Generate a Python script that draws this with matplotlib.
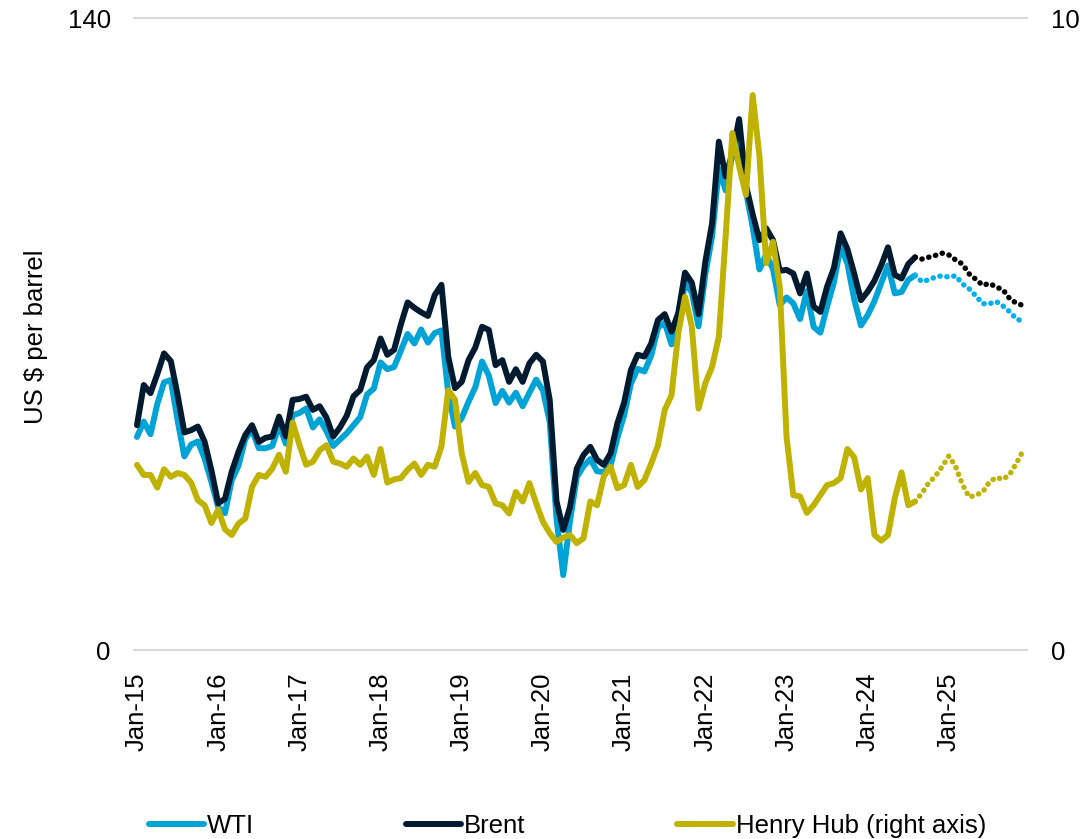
import matplotlib
matplotlib.use("Agg")
import matplotlib.pyplot as plt
from matplotlib.lines import Line2D

plt.rcParams["font.family"] = ["Liberation Sans", "DejaVu Sans"]

# ── data (monthly, Jan-15 .. Dec-25) ─────────────────────────────────────────

TICK_LABELS = ["Jan-15", "Jan-16", "Jan-17", "Jan-18", "Jan-19", "Jan-20",
               "Jan-21", "Jan-22", "Jan-23", "Jan-24", "Jan-25"]

# history Jan-15 .. Aug-24 (US $ per barrel)
WTI_HIST = [
    47.2, 50.6, 47.8, 54.5, 59.3, 59.8, 50.9, 42.9, 45.5, 46.2, 42.4, 37.2,
    31.7, 30.3, 37.6, 40.8, 46.7, 48.8, 44.7, 44.7, 45.2, 49.8, 45.7, 52.0,
    52.5, 53.5, 49.3, 51.1, 48.5, 45.2, 46.6, 48.0, 49.8, 51.6, 56.6, 57.9,
    63.7, 62.2, 62.7, 66.3, 70.0, 67.9, 71.0, 68.1, 70.2, 70.8, 57.0, 49.5,
    51.4, 55.0, 58.2, 63.9, 60.8, 54.7, 57.4, 54.8, 57.0, 54.0, 57.0, 59.9,
    57.5, 50.5, 29.2, 16.6, 28.6, 38.3, 40.7, 42.3, 39.6, 39.4, 40.9, 47.0,
    52.0, 59.0, 62.3, 61.7, 65.2, 71.4, 72.5, 67.7, 71.7, 81.5, 79.2, 71.7,
    83.2, 91.6, 106.5, 101.8, 109.6, 114.8, 101.6, 93.7, 84.3, 87.6, 84.4, 76.4,
    78.1, 76.8, 73.3, 79.5, 71.6, 70.3, 76.1, 81.4, 89.4, 85.6, 77.7, 71.9,
    74.2, 77.3, 81.3, 85.2, 79.0, 79.3, 82.0, 83.0,
]
BRENT_HIST = [
    49.8, 58.7, 56.9, 61.1, 65.7, 64.0, 56.5, 48.2, 48.7, 49.5, 46.1, 39.8,
    32.5, 33.5, 39.5, 43.9, 47.6, 49.8, 46.1, 47.0, 47.3, 51.7, 47.3, 55.4,
    55.6, 56.1, 53.2, 54.0, 51.5, 47.3, 49.3, 51.9, 56.2, 57.6, 62.6, 64.2,
    69.0, 65.4, 66.5, 72.1, 77.0, 75.8, 74.8, 74.0, 78.6, 80.9, 65.0, 58.0,
    59.4, 64.2, 67.0, 71.6, 70.9, 63.1, 64.2, 59.4, 62.2, 59.4, 63.5, 65.4,
    63.9, 55.4, 33.0, 26.6, 31.7, 40.2, 43.2, 45.0, 42.1, 41.0, 43.6, 50.2,
    54.8, 62.0, 65.4, 65.0, 67.9, 73.1, 74.4, 70.5, 74.6, 83.6, 81.4, 74.4,
    86.0, 94.5, 112.6, 104.9, 110.0, 117.6, 103.0, 96.5, 90.8, 93.4, 90.8, 84.0,
    84.2, 83.4, 79.0, 83.4, 76.1, 74.9, 80.5, 84.6, 92.3, 88.8, 83.4, 77.5,
    79.4, 81.8, 85.2, 89.2, 83.1, 82.3, 85.5, 87.0,
]
# US $ per MMBtu
HH_HIST = [
    2.93, 2.77, 2.77, 2.57, 2.86, 2.74, 2.80, 2.77, 2.65, 2.37, 2.29, 2.01,
    2.22, 1.91, 1.82, 2.00, 2.08, 2.58, 2.77, 2.74, 2.87, 3.09, 2.82, 3.60,
    3.25, 2.93, 2.98, 3.16, 3.24, 2.98, 2.95, 2.90, 3.03, 2.93, 3.06, 2.77,
    3.18, 2.65, 2.70, 2.72, 2.85, 2.95, 2.77, 2.93, 2.90, 3.22, 4.11, 3.96,
    3.11, 2.66, 2.80, 2.61, 2.58, 2.32, 2.29, 2.16, 2.50, 2.35, 2.64, 2.32,
    2.03, 1.85, 1.71, 1.78, 1.82, 1.69, 1.77, 2.35, 2.29, 2.75, 2.90, 2.56,
    2.61, 2.93, 2.58, 2.69, 2.95, 3.24, 3.80, 4.03, 5.01, 5.59, 5.12, 3.82,
    4.22, 4.48, 4.96, 6.54, 8.18, 7.65, 7.20, 8.78, 7.81, 6.12, 6.46, 5.75,
    3.38, 2.45, 2.43, 2.17, 2.29, 2.45, 2.61, 2.64, 2.72, 3.18, 3.05, 2.54,
    2.72, 1.82, 1.73, 1.82, 2.40, 2.81, 2.29, 2.35,
]

# forecast Aug-24 .. Dec-25 (first value repeats the last history month)
WTI_FCST = [83.0, 81.6, 82.0, 82.6, 82.9, 82.6, 82.9, 81.1, 80.0, 78.4,
            76.7, 76.7, 77.2, 76.2, 74.9, 73.3, 72.8]
BRENT_FCST = [87.0, 86.6, 87.0, 87.4, 87.9, 87.5, 86.4, 85.5, 83.3, 82.1,
              80.8, 81.2, 80.4, 79.8, 77.8, 76.8, 76.3]
HH_FCST = [2.35, 2.48, 2.64, 2.75, 2.90, 3.07, 2.90, 2.62, 2.42, 2.45,
           2.50, 2.66, 2.73, 2.70, 2.78, 2.96, 3.16]

# ── styles ───────────────────────────────────────────────────────────────────

C_WTI, C_WTI_F = "#00A3D6", "#00B0F0"
C_BRENT, C_BRENT_F = "#001A30", "#000000"
C_HH = "#BFB200"
LW = 4.3
LW_DOT = 3.9
DOTS = (0, (0.05, 1.25))
FS = 18.5

W, H = 1081, 839
fig = plt.figure(figsize=(W / 100, H / 100), dpi=100)
ax = fig.add_axes([133.6 / W, 1 - 650 / H, (1026.7 - 133.6) / W, (650 - 18) / H])
ax2 = ax.twinx()

n_hist = len(WTI_HIST)
x_hist = list(range(n_hist))
x_fcst = list(range(n_hist - 1, n_hist - 1 + len(WTI_FCST)))

solid = dict(lw=LW, solid_capstyle="round", solid_joinstyle="round")
dotted = dict(lw=LW_DOT, ls=DOTS, dash_capstyle="round")

ax.plot(x_hist, WTI_HIST, color=C_WTI, zorder=3, **solid)
ax.plot(x_fcst, WTI_FCST, color=C_WTI_F, zorder=3, **dotted)
ax.plot(x_hist, BRENT_HIST, color=C_BRENT, zorder=4, **solid)
ax.plot(x_fcst, BRENT_FCST, color=C_BRENT_F, zorder=4, **dotted)
ax2.plot(x_hist, HH_HIST, color=C_HH, zorder=5, **solid)
ax2.plot(x_fcst, HH_FCST, color=C_HH, zorder=5, **dotted)

ax.set_xlim(-0.5, x_fcst[-1] + 0.5)
ax.set_ylim(0, 140)
ax2.set_ylim(0, 10)
ax.set_yticks([0, 140])
ax2.set_yticks([0, 10])
for y in (0, 140):
    ax.axhline(y, color="#D9D9D9", lw=1.5, zorder=0, clip_on=False)

ax.set_xticks(range(0, 12 * len(TICK_LABELS), 12))
ax.set_xticklabels(TICK_LABELS, rotation=90, fontsize=FS)

for a in (ax, ax2):
    for s in a.spines.values():
        s.set_visible(False)
ax.tick_params(axis="x", length=0, pad=16)
ax.tick_params(axis="y", length=0, pad=16.5, labelsize=FS)
ax2.tick_params(axis="y", length=0, pad=17.5, labelsize=FS)

fig.text(36 / W, 1 - 337 / H, "US $ per barrel", rotation=90,
         ha="center", va="center", fontsize=FS)

handles = [Line2D([], [], color=c, lw=LW, solid_capstyle="round")
           for c in (C_WTI, C_BRENT, C_HH)]
fig.legend(handles, ["WTI", "Brent", "Henry Hub (right axis)"],
           loc="center left", bbox_to_anchor=(149 / W, 1 - 826 / H),
           ncol=3, frameon=False, fontsize=FS, handlelength=2.15,
           handletextpad=0.12, columnspacing=5.9, borderpad=0,
           borderaxespad=0)

fig.savefig("out.png", dpi=100)
